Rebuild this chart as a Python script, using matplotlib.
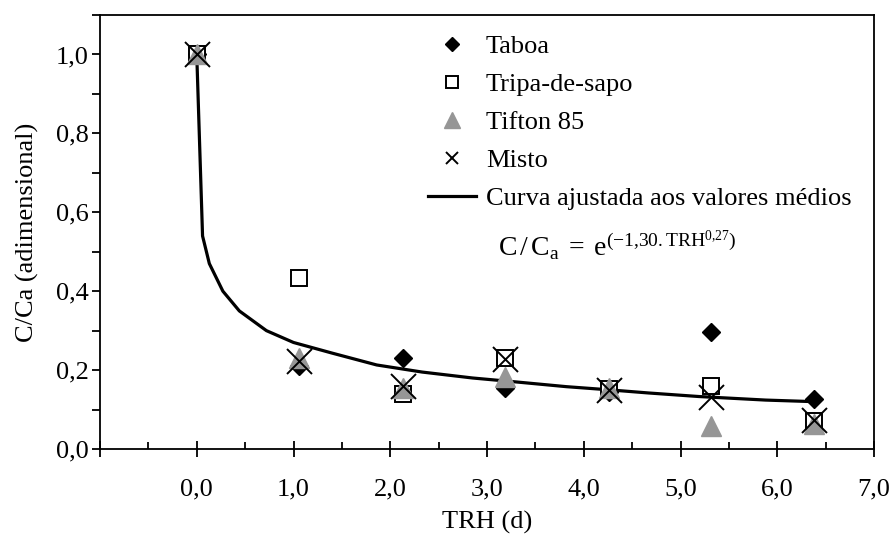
import matplotlib
matplotlib.use('Agg')
import matplotlib.pyplot as plt
from matplotlib.ticker import MultipleLocator, FuncFormatter

plt.rcParams['font.family'] = 'Liberation Serif'
plt.rcParams['mathtext.fontset'] = 'custom'
plt.rcParams['mathtext.rm'] = 'Liberation Serif'
plt.rcParams['mathtext.it'] = 'Liberation Serif:italic'

# dados
trh = [0.0, 1.06, 2.13, 3.19, 4.26, 5.32, 6.38]
taboa = [1.0, 0.21, 0.23, 0.155, 0.145, 0.297, 0.127]
tripa = [1.0, 0.434, 0.14, 0.23, 0.152, 0.16, 0.07]
tifton = [1.0, 0.23, 0.155, 0.183, 0.155, 0.058, 0.063]
misto = [1.0, 0.223, 0.16, 0.228, 0.15, 0.132, 0.074]

# curva ajustada
curva_x = [0.0, 0.06, 0.13, 0.27, 0.44, 0.72, 1.0, 1.4, 1.86, 2.33, 2.85,
           3.3, 3.82, 4.26, 4.67, 5.19, 5.88, 6.38]
curva_y = [1.0, 0.54, 0.47, 0.40, 0.35, 0.30, 0.27, 0.243, 0.213, 0.195, 0.18,
           0.17, 0.158, 0.15, 0.142, 0.133, 0.124, 0.12]

cinza = '#969696'
fs = 19

fig = plt.figure(figsize=(8.92, 5.36), dpi=100)
ax = fig.add_axes([100/892, 1-449/536, 774/892, 434/536])

ax.plot(curva_x, curva_y, color='black', lw=2.3, zorder=2,
        label='Curva ajustada aos valores médios')
ax.plot(trh, taboa, ls='none', marker='D', ms=9, color='black', zorder=3, label='Taboa')
ax.plot(trh, tripa, ls='none', marker='s', ms=11, mfc='white', mec='black', mew=1.4,
        zorder=3, label='Tripa-de-sapo')
ax.plot(trh, tifton, ls='none', marker='^', ms=15, color=cinza, zorder=4, label='Tifton 85')
ax.plot(trh, misto, ls='none', marker='x', ms=18, mew=1.4, color='black', zorder=5, label='Misto')

ax.set_xlim(-1, 7)
ax.set_ylim(0, 1.1)
ax.xaxis.set_major_locator(MultipleLocator(1))
ax.xaxis.set_minor_locator(MultipleLocator(0.5))
ax.yaxis.set_major_locator(MultipleLocator(0.2))
ax.yaxis.set_minor_locator(MultipleLocator(0.1))

def fmt_x(v, pos):
    if v < -0.5:
        return ''
    return f'{v:.1f}'.replace('.', ',')

def fmt_y(v, pos):
    return f'{v:.1f}'.replace('.', ',')

ax.xaxis.set_major_formatter(FuncFormatter(fmt_x))
ax.yaxis.set_major_formatter(FuncFormatter(fmt_y))

ax.tick_params(axis='x', which='major', direction='inout', length=12, width=1.3,
               labelsize=fs, pad=15)
ax.tick_params(axis='x', which='minor', direction='in', length=5, width=1.3)
ax.tick_params(axis='y', which='both', direction='out', length=6, width=1.3,
               labelsize=fs, pad=2)
for s in ax.spines.values():
    s.set_linewidth(1.3)

ax.set_xlabel('TRH (d)', fontsize=fs, labelpad=8)
ax.set_ylabel('C/Ca (adimensional)', fontsize=fs, labelpad=12)

h, l = ax.get_legend_handles_labels()
ordem = [1, 2, 3, 4, 0]
leg = ax.legend([h[i] for i in ordem], [l[i] for i in ordem], loc='upper left',
                bbox_to_anchor=(428/892, 1-35/536), bbox_transform=fig.transFigure,
                frameon=False, fontsize=fs, handlelength=1.8, handletextpad=0.4,
                labelspacing=0.55, borderpad=0, borderaxespad=0)
tam = [7.5, 8.5, 11, 8, None]
for hd, t in zip(leg.legend_handles, tam):
    if t is not None:
        hd.set_markersize(t)

fig.text(498/892, 1-246/536, r'$\mathrm{C\,/\,C_a\;=\;e^{(-1{,}30.TRH^{0{,}27})}}$',
         fontsize=20, va='center', ha='left')

fig.savefig('out.png', dpi=100)
